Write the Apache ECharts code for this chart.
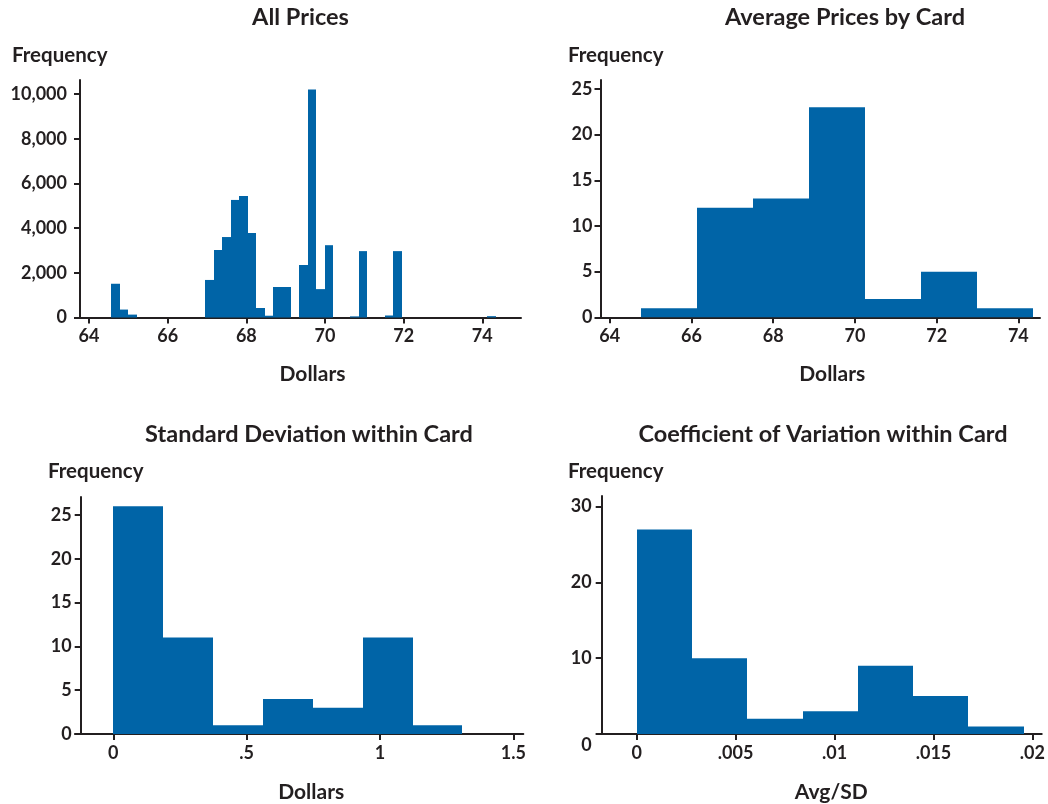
<!DOCTYPE html>
<html><head><meta charset="utf-8">
<script src="https://cdn.jsdelivr.net/npm/echarts@6/dist/echarts.min.js"></script>
<style>html,body{margin:0;padding:0;background:#fff}#c{width:1048px;height:804px}</style>
</head><body><div id="c"></div>
<script>
// ---- data ----
const allPricesStart = 64.56;
const allPricesWidth = 0.2173;
const allPricesCounts = [1510,355,130,0,0,0,0,0,0,0,0,1680,3020,3600,5260,5440,3780,425,80,1365,1365,0,2350,10200,1270,3235,0,0,50,2970,0,0,90,2970,0,0,0,0,0,0,0,0,0,0,60];
const avgStart = 64.775;
const avgWidth = 1.369;
const avgCounts = [1,12,13,23,2,5,1];
const sdStart = 0;
const sdWidth = 0.187;
const sdCounts = [26,11,1,4,3,11,1];
const cvStart = 0;
const cvWidth = 0.002794;
const cvCounts = [27,10,2,3,9,5,1];

const allPricesXTicks = [64,66,68,70,72,74];
const allPricesYTicks = [0,2000,4000,6000,8000,10000];
const avgXTicks = [64,66,68,70,72,74];
const avgYTicks = [0,5,10,15,20,25];
const sdXTicks = [0,0.5,1,1.5];
const sdYTicks = [0,5,10,15,20,25];
const cvXTicks = [0,0.005,0.01,0.015,0.02];
const cvYTicks = [0,10,20,30];

const titles = ['All Prices','Average Prices by Card','Standard Deviation within Card','Coefficient of Variation within Card'];
const yNames = ['Frequency','Frequency','Frequency','Frequency'];
const xNames = ['Dollars','Dollars','Dollars','Avg/SD'];

// ---- styling ----
const BAR = '#0064a7';
const INK = '#231f20';
const FONT = 'Lato';

function bins(start, width, counts){
  return counts.map((c,i)=>[start+i*width, start+(i+1)*width, c]);
}
function renderBin(params, api){
  const p0 = api.coord([api.value(0), api.value(2)]);
  const p1 = api.coord([api.value(1), 0]);
  const x0 = Math.round(p0[0]), x1 = Math.round(p1[0]);
  const y0 = p0[1], y1 = p1[1];
  return {type:'rect', shape:{x:x0, y:y0, width:x1-x0, height:y1-y0}, style:{fill:BAR}};
}
const dropZero = v => v===0 ? '0' : String(v).replace(/^0\./,'.');

const grids = [
  {left:80, top:80, width:441, height:237.5},
  {left:600.5, top:80, width:439.5, height:237.3},
  {left:75, top:497, width:448.3, height:237.3},
  {left:596.7, top:496, width:445.3, height:238.3}
];
const xCfg = [
  {min:63.771, max:74.984, ticks:allPricesXTicks, fmt:v=>String(v)},
  {min:63.773, max:74.53, ticks:avgXTicks, fmt:v=>String(v)},
  {min:-0.1436, max:1.537, ticks:sdXTicks, fmt:dropZero},
  {min:-0.00202, max:0.02047, ticks:cvXTicks, fmt:dropZero}
];
const yCfg = [
  {max:10626, ticks:allPricesYTicks, fmt:v=>v.toLocaleString('en-US'), margin:13, offset:0},
  {max:25.98, ticks:avgYTicks, fmt:v=>String(v), margin:8, offset:0},
  {max:27.05, ticks:sdYTicks, fmt:v=>String(v), margin:9, offset:-5.7},
  {max:31.41, ticks:cvYTicks, fmt:v=>v===0?'{z|0}':String(v), margin:10, offset:-5}
];
const seriesData = [
  bins(allPricesStart, allPricesWidth, allPricesCounts),
  bins(avgStart, avgWidth, avgCounts),
  bins(sdStart, sdWidth, sdCounts),
  bins(cvStart, cvWidth, cvCounts)
];
const titlePos = [[300.5,5],[845,5],[309,422],[823,422]];
const freqPos = [[12,45],[568,45],[48,461],[568,461]];
const nameGaps = [46,46,48,48];

const axisLine = {show:true, onZero:false, lineStyle:{color:INK, width:2}};
const axisTick = {show:true, length:6, lineStyle:{color:INK, width:2}};
const lblStyle = {color:INK, fontFamily:FONT, fontWeight:'bold', fontSize:18};

const option = {
  backgroundColor:'#fff',
  animation:false,
  title: titles.map((t,i)=>({text:t, left:titlePos[i][0], top:titlePos[i][1], textAlign:'center', padding:0,
      textStyle:{color:INK, fontFamily:FONT, fontWeight:'bold', fontSize:23.5}}))
    .concat(yNames.map((t,i)=>({text:t, left:freqPos[i][0], top:freqPos[i][1], padding:0,
      textStyle:{color:INK, fontFamily:FONT, fontWeight:'bold', fontSize:20.5}}))),
  grid: grids.map(g=>Object.assign({containLabel:false}, g)),
  xAxis: xCfg.map((c,i)=>({type:'value', gridIndex:i, min:c.min, max:c.max,
    name:xNames[i], nameLocation:'middle', nameGap:nameGaps[i],
    nameTextStyle:{color:INK, fontFamily:FONT, fontWeight:'bold', fontSize:21, padding:[0,0,0,24]},
    axisLine, axisTick:Object.assign({customValues:c.ticks}, axisTick),
    axisLabel:Object.assign({customValues:c.ticks, formatter:c.fmt, margin:10}, lblStyle),
    splitLine:{show:false}})),
  yAxis: yCfg.map((c,i)=>({type:'value', gridIndex:i, min:0, max:c.max, offset:c.offset,
    axisLine, axisTick:Object.assign({customValues:c.ticks}, axisTick),
    axisLabel:Object.assign({customValues:c.ticks, formatter:c.fmt, margin:c.margin,
      rich:{z:{color:INK, fontFamily:FONT, fontWeight:'bold', fontSize:18, padding:[22,0,0,0]}}}, lblStyle),
    splitLine:{show:false}})),
  series: seriesData.map((d,i)=>({type:'custom', xAxisIndex:i, yAxisIndex:i, clip:false,
    encode:{x:[0,1], y:2}, data:d, renderItem:renderBin}))
};
echarts.init(document.getElementById('c'), null, {renderer:'canvas'}).setOption(option);
</script></body></html>
